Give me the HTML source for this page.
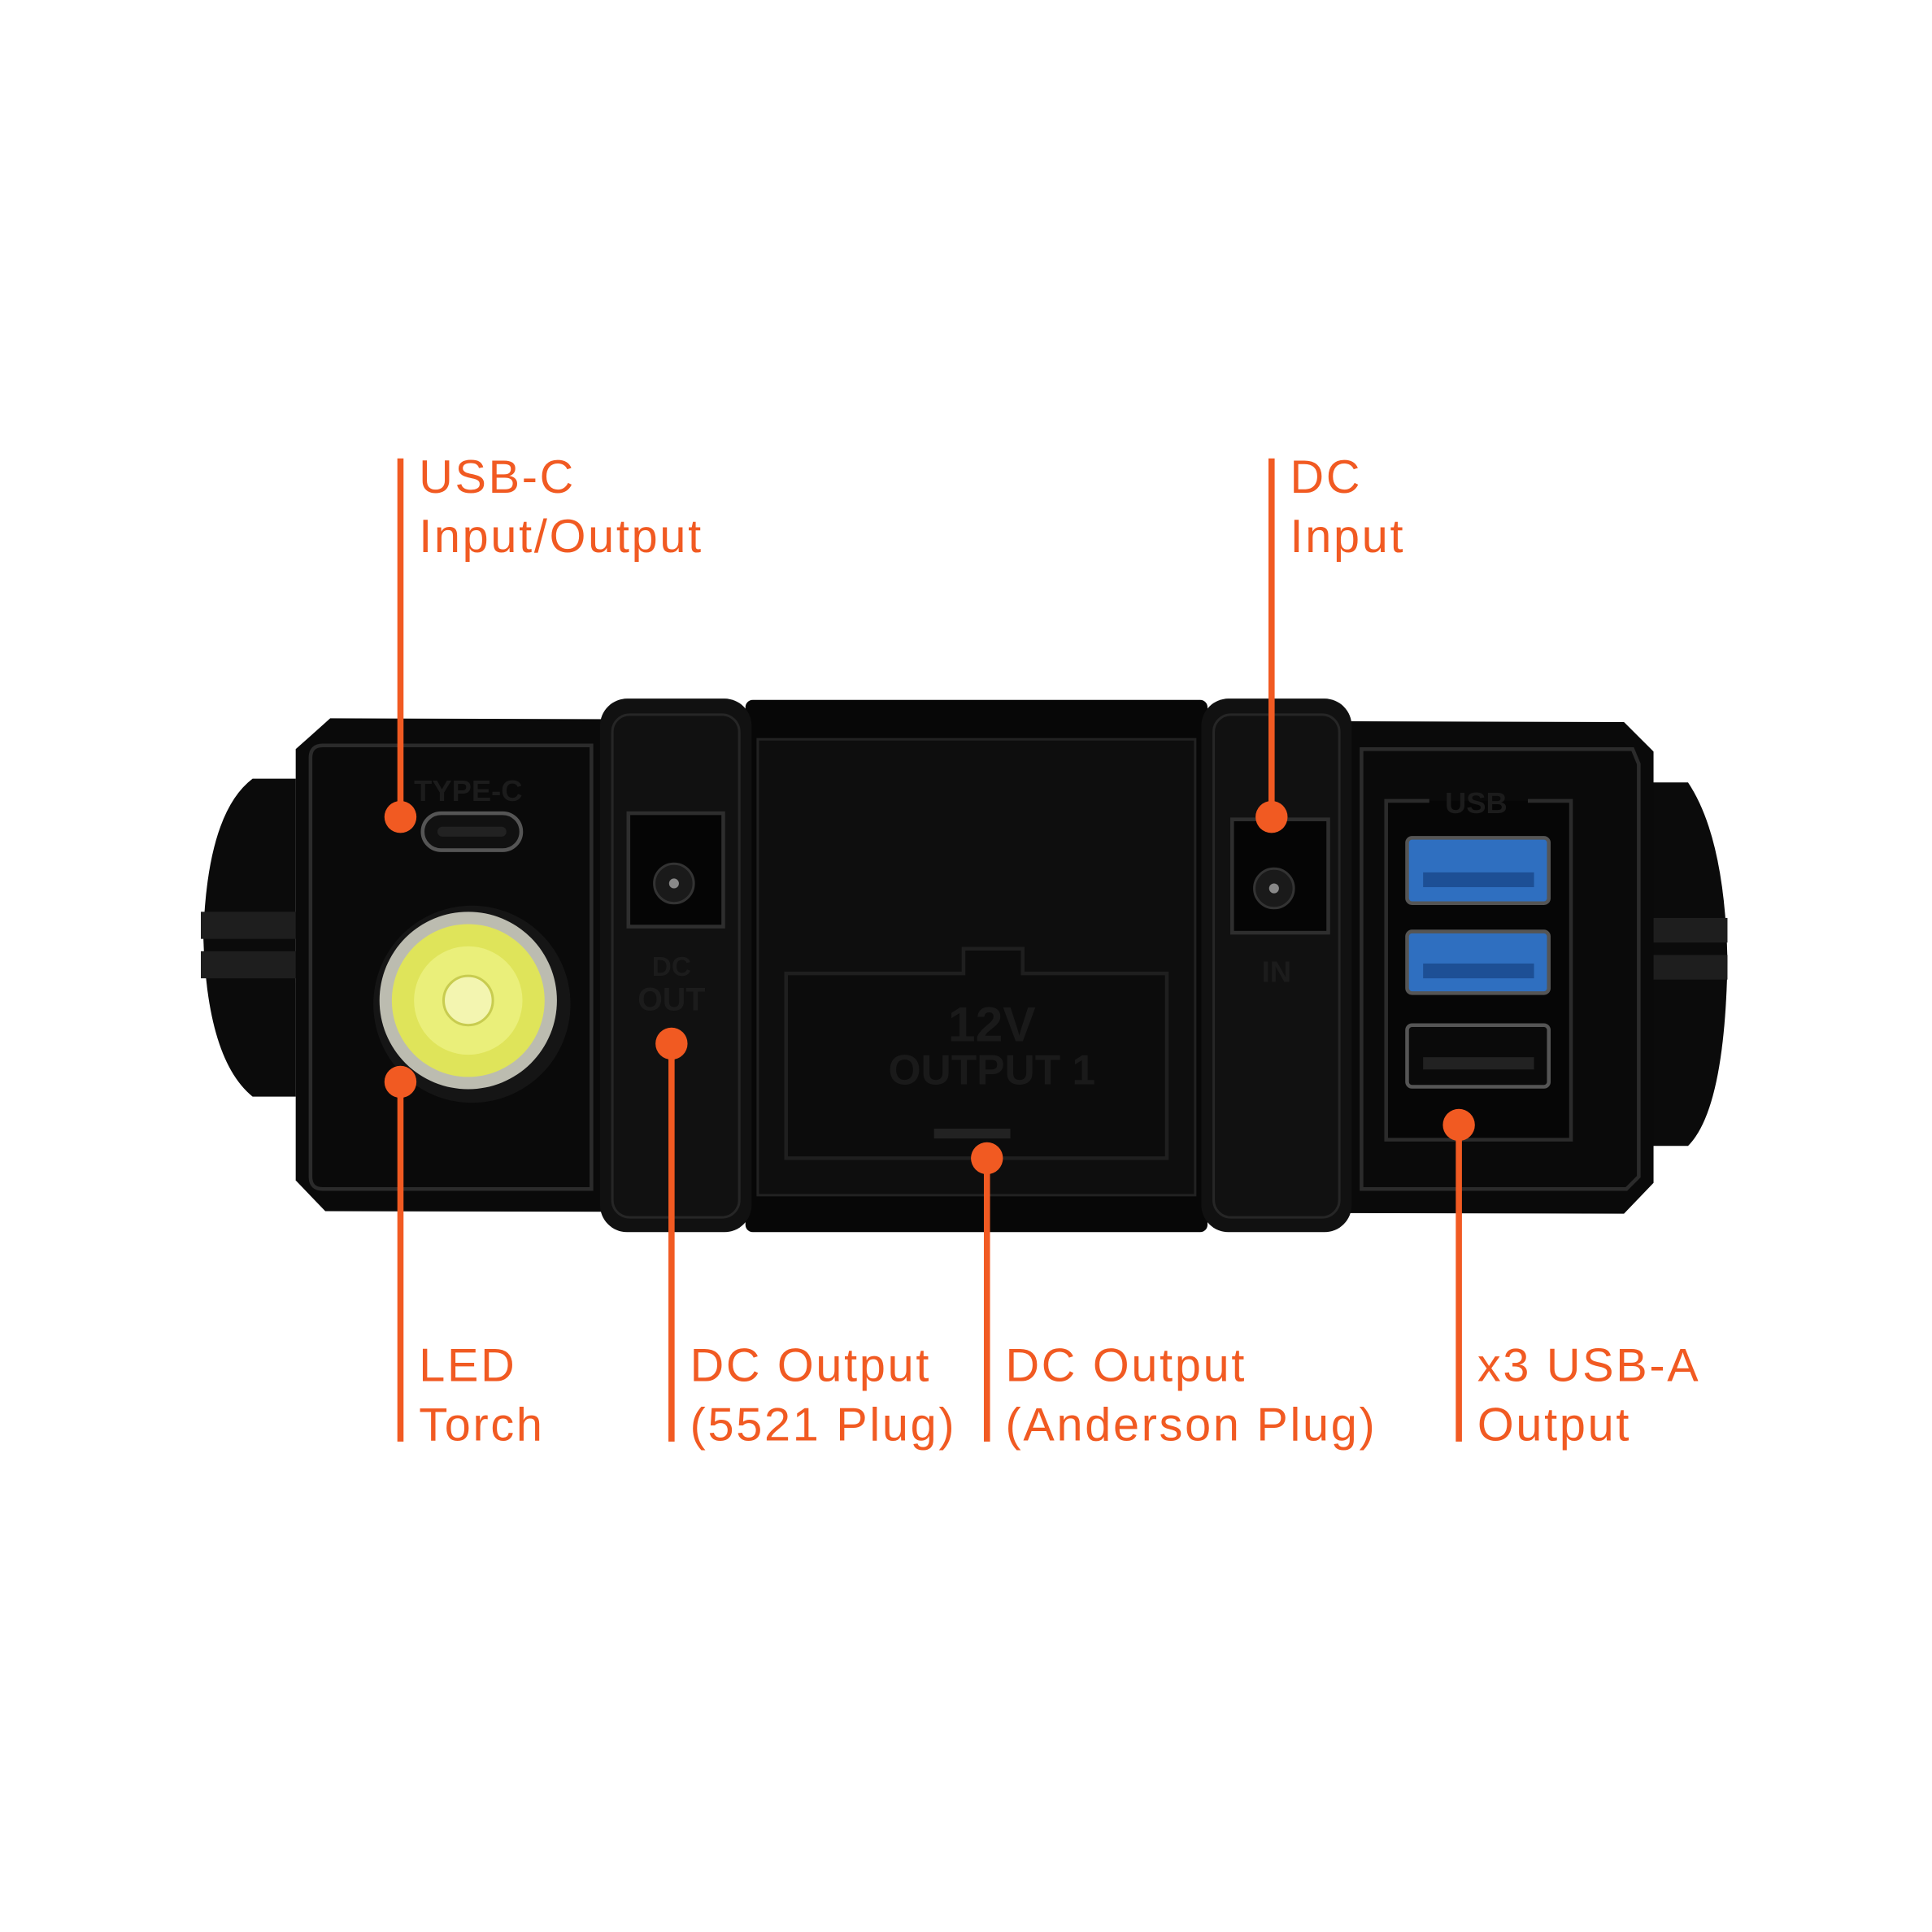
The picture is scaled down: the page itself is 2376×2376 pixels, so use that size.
<!DOCTYPE html>
<html><head><meta charset="utf-8"><style>
html,body{margin:0;padding:0;background:#fff;}
svg{display:block}
text{font-family:"Liberation Sans",sans-serif;}
</style></head><body>
<svg width="2376" height="2376" viewBox="0 0 1568 1568" xmlns="http://www.w3.org/2000/svg">
<rect width="1568" height="1568" fill="#fff"/>
<path d="M205 632 L240 632 L240 890 L205 890 Q168 860 165 760 Q168 660 205 632Z" fill="#0b0b0b"/>
<rect x="163" y="740" width="80" height="22" fill="#1e1e1e"/>
<rect x="163" y="772" width="80" height="22" fill="#1e1e1e"/>
<path d="M1340 635 L1370 635 Q1400 680 1402 780 Q1400 900 1370 930 L1340 930Z" fill="#0b0b0b"/>
<rect x="1340" y="745" width="62" height="20" fill="#1e1e1e"/>
<rect x="1340" y="775" width="62" height="20" fill="#1e1e1e"/>
<path d="M268 583 L1318 586 L1342 610 L1342 960 L1318 985 L264 983 L240 958 L240 608Z" fill="#0a0a0a"/>
<path d="M262 605 L480 605 L480 965 L262 965 Q252 965 252 955 L252 615 Q252 605 262 605Z" fill="none" stroke="#2b2b2b" stroke-width="3"/>
<path d="M1105 608 L1325 608 L1330 620 L1330 955 L1320 965 L1105 965Z" fill="none" stroke="#2b2b2b" stroke-width="3"/>
<rect x="605" y="568" width="375" height="432" rx="6" fill="#070707"/>
<rect x="615" y="600" width="355" height="370" fill="#0e0e0e" stroke="#222" stroke-width="2"/>
<rect x="487" y="567" width="123" height="433" rx="22" fill="#111"/>
<rect x="497" y="580" width="103" height="408" rx="14" fill="none" stroke="#262626" stroke-width="2"/>
<rect x="975" y="567" width="122" height="433" rx="22" fill="#111"/>
<rect x="985" y="580" width="102" height="408" rx="14" fill="none" stroke="#262626" stroke-width="2"/>
<rect x="510" y="660" width="77" height="92" fill="#050505" stroke="#2e2e2e" stroke-width="3"/>
<circle cx="547" cy="717" r="16" fill="#1a1a1a" stroke="#333" stroke-width="2"/>
<circle cx="547" cy="717" r="4" fill="#888"/>
<text x="545" y="792" font-size="22" font-weight="bold" fill="#1c1c1c" text-anchor="middle">DC</text>
<text x="545" y="820" font-size="26" font-weight="bold" fill="#1c1c1c" text-anchor="middle">OUT</text>
<rect x="1000" y="665" width="78" height="92" fill="#050505" stroke="#2e2e2e" stroke-width="3"/>
<circle cx="1034" cy="721" r="16" fill="#1a1a1a" stroke="#333" stroke-width="2"/>
<circle cx="1034" cy="721" r="4" fill="#888"/>
<text x="1036" y="797" font-size="24" font-weight="bold" fill="#1c1c1c" text-anchor="middle">IN</text>
<path d="M638 790 L782 790 L782 770 L830 770 L830 790 L947 790 L947 940 L638 940Z" fill="#0c0c0c" stroke="#1f1f1f" stroke-width="3"/>
<text x="805" y="845" font-size="40" font-weight="bold" fill="#1a1a1a" text-anchor="middle">12V</text>
<text x="805" y="880" font-size="34" font-weight="bold" fill="#1a1a1a" text-anchor="middle">OUTPUT 1</text>
<rect x="758" y="916" width="62" height="8" fill="#222"/>
<text x="380" y="650" font-size="24" font-weight="bold" fill="#1c1c1c" text-anchor="middle">TYPE-C</text>
<rect x="343" y="660" width="80" height="30" rx="15" fill="#111" stroke="#555" stroke-width="3"/>
<rect x="355" y="671" width="56" height="8" rx="4" fill="#222"/>
<circle cx="383" cy="815" r="80" fill="#151515"/>
<circle cx="380" cy="812" r="72" fill="#bcbcb0"/>
<circle cx="380" cy="812" r="62" fill="#dfe45a"/>
<circle cx="380" cy="812" r="44" fill="#eaef7a"/>
<circle cx="380" cy="812" r="20" fill="#f3f5b0" stroke="#c8cc50" stroke-width="2"/>
<rect x="1125" y="650" width="150" height="275" fill="#060606"/>
<path d="M1160 650 L1125 650 L1125 925 L1275 925 L1275 650 L1240 650" fill="none" stroke="#2b2b2b" stroke-width="3"/>
<text x="1198" y="660" font-size="24" font-weight="bold" fill="#1c1c1c" text-anchor="middle">USB</text>
<rect x="1142" y="680" width="115" height="53" rx="4" fill="#2f6fc0" stroke="#555" stroke-width="3"/>
<rect x="1155" y="708" width="90" height="12" fill="#1d4f95"/>
<rect x="1142" y="756" width="115" height="50" rx="4" fill="#2f6fc0" stroke="#555" stroke-width="3"/>
<rect x="1155" y="782" width="90" height="12" fill="#1d4f95"/>
<rect x="1142" y="832" width="115" height="50" rx="4" fill="#0a0a0a" stroke="#555" stroke-width="3"/>
<rect x="1155" y="858" width="90" height="10" fill="#222"/>
<g stroke="#f15a22" stroke-width="5" fill="none">
<line x1="325" y1="372" x2="325" y2="663"/>
<line x1="1032" y1="372" x2="1032" y2="663"/>
<line x1="325" y1="878" x2="325" y2="1170"/>
<line x1="545" y1="847" x2="545" y2="1170"/>
<line x1="801" y1="940" x2="801" y2="1170"/>
<line x1="1184" y1="913" x2="1184" y2="1170"/>
</g>
<g fill="#f15a22">
<circle cx="325" cy="663" r="13"/>
<circle cx="1032" cy="663" r="13"/>
<circle cx="325" cy="878" r="13"/>
<circle cx="545" cy="847" r="13"/>
<circle cx="801" cy="940" r="13"/>
<circle cx="1184" cy="913" r="13"/>
</g>
<g fill="#f15a22" font-size="38" letter-spacing="1.8" font-weight="500">
<text x="340" y="400">USB-C</text>
<text x="340" y="448">Input/Output</text>
<text x="1047" y="400">DC</text>
<text x="1047" y="448">Input</text>
<text x="340" y="1121">LED</text>
<text x="340" y="1169">Torch</text>
<text x="560" y="1121">DC Output</text>
<text x="560" y="1169">(5521 Plug)</text>
<text x="816" y="1121">DC Output</text>
<text x="816" y="1169">(Anderson Plug)</text>
<text x="1199" y="1121">x3 USB-A</text>
<text x="1199" y="1169">Output</text>
</g>
</svg>
</body></html>
